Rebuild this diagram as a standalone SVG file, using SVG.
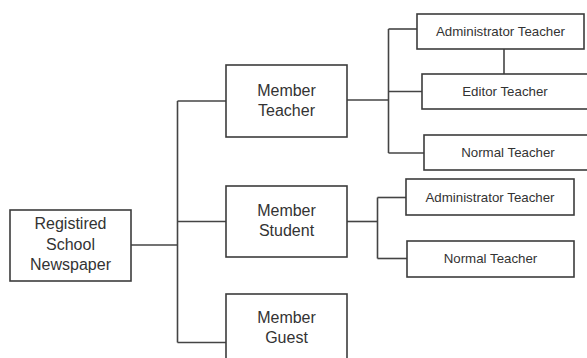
<svg xmlns="http://www.w3.org/2000/svg" width="587" height="358" viewBox="0 0 587 358">
  <style>
    .box { fill: #ffffff; stroke: #3c3c3c; stroke-width: 1.6; }
    .wire { fill: none; stroke: #444444; stroke-width: 1.6; }
    .big { font-family: "Liberation Sans", Arial, sans-serif; font-size: 16px; fill: #333333; text-anchor: middle; }
    .small { font-family: "Liberation Sans", Arial, sans-serif; font-size: 13.3px; fill: #333333; text-anchor: middle; }
  </style>
  <rect width="587" height="358" fill="#ffffff"/>

  <!-- connectors -->
  <g id="connectors">
    <path class="wire" d="M131 245 H177.5"/>
    <path class="wire" d="M177.5 101 V342.5"/>
    <path class="wire" d="M177.5 101 H226"/>
    <path class="wire" d="M177.5 221.5 H226"/>
    <path class="wire" d="M177.5 342.5 H226"/>
    <!-- teacher branch -->
    <path class="wire" d="M347 100 H388.5"/>
    <path class="wire" d="M388.5 29 V153"/>
    <path class="wire" d="M388.5 29 H417"/>
    <path class="wire" d="M388.5 91.5 H422"/>
    <path class="wire" d="M388.5 153 H424"/>
    <path class="wire" d="M504 49 V74"/>
    <!-- student branch -->
    <path class="wire" d="M347 221.5 H377.5"/>
    <path class="wire" d="M377.5 197.5 V258.5"/>
    <path class="wire" d="M377.5 197.5 H406"/>
    <path class="wire" d="M377.5 258.5 H407"/>
  </g>

  <g id="registired-school-newspaper">
    <rect class="box" x="10" y="210" width="121" height="71"/>
    <text class="big" x="70.5" y="229">Registired</text>
    <text class="big" x="70.5" y="250">School</text>
    <text class="big" x="70.5" y="270">Newspaper</text>
  </g>

  <g id="member-teacher">
    <rect class="box" x="226" y="65" width="121" height="72"/>
    <text class="big" x="286.5" y="96">Member</text>
    <text class="big" x="286.5" y="116">Teacher</text>
  </g>

  <g id="member-student">
    <rect class="box" x="226" y="186" width="121" height="71"/>
    <text class="big" x="286.5" y="216">Member</text>
    <text class="big" x="286.5" y="236">Student</text>
  </g>

  <g id="member-guest">
    <rect class="box" x="226" y="294" width="121" height="70"/>
    <text class="big" x="286.5" y="323">Member</text>
    <text class="big" x="286.5" y="343">Guest</text>
  </g>

  <g id="teacher-administrator">
    <rect class="box" x="417" y="14" width="167" height="35"/>
    <text class="small" x="500.5" y="36">Administrator Teacher</text>
  </g>

  <g id="teacher-editor">
    <rect class="box" x="422" y="74" width="180" height="35"/>
    <text class="small" x="505" y="96">Editor Teacher</text>
  </g>

  <g id="teacher-normal">
    <rect class="box" x="424" y="135" width="180" height="35"/>
    <text class="small" x="508" y="157">Normal Teacher</text>
  </g>

  <g id="student-administrator">
    <rect class="box" x="406" y="179" width="168" height="36"/>
    <text class="small" x="490" y="202">Administrator Teacher</text>
  </g>

  <g id="student-normal">
    <rect class="box" x="407" y="241" width="167" height="36"/>
    <text class="small" x="490.5" y="263">Normal Teacher</text>
  </g>
</svg>
